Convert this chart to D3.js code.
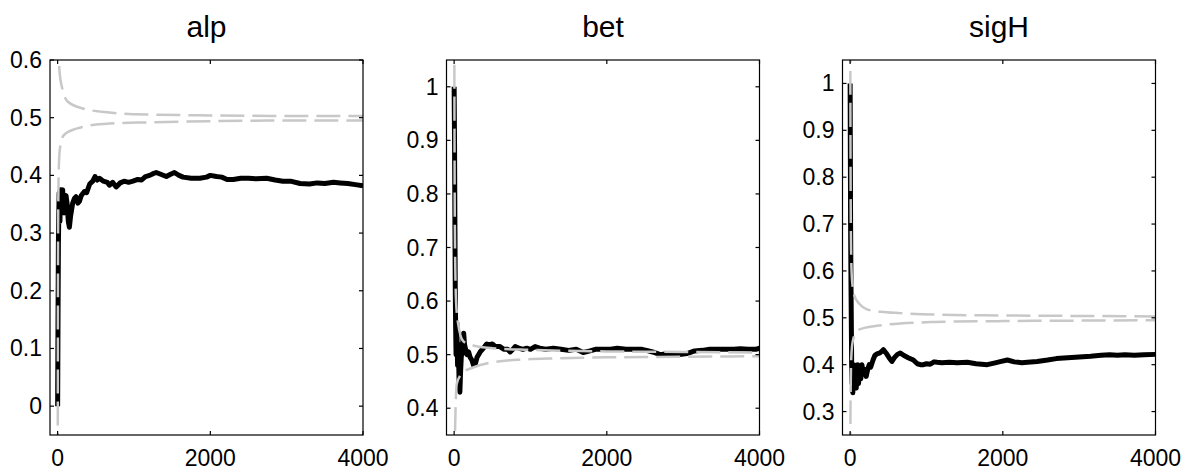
<!DOCTYPE html>
<html>
<head>
<meta charset="utf-8">
<script src="https://cdn.jsdelivr.net/npm/d3@7"></script>
<style>
  body { margin: 0; background: #fff; }
  text { font-family: "Liberation Sans", Arial, Helvetica, sans-serif; fill: #000; }
</style>
</head>
<body>
<div class="chart"></div>
<script>
// panel titles and tick labels
var titles = ["alp", "bet", "sigH"];
var xTicks = [0, 2000, 4000];
var alpTicks = [0, 0.1, 0.2, 0.3, 0.4, 0.5, 0.6];
var betTicks = [0.4, 0.5, 0.6, 0.7, 0.8, 0.9, 1];
var sigTicks = [0.3, 0.4, 0.5, 0.6, 0.7, 0.8, 0.9, 1];

// alp: running estimate (black) and the two grey bounds
var alpIter = [0, 5, 10, 15, 20, 30, 40, 55, 66, 80, 88, 100, 110, 125, 140, 154, 170, 197, 220, 241, 265, 285, 310, 351, 380, 420, 460, 490, 520, 548, 600, 650, 679, 720, 767, 820, 870, 930, 986, 1050, 1100, 1150, 1205, 1250, 1292, 1350, 1424, 1480, 1530, 1590, 1643, 1750, 1862, 1950, 2000, 2081, 2150, 2220, 2300, 2400, 2500, 2600, 2738, 2850, 2950, 3050, 3176, 3300, 3400, 3500, 3614, 3700, 3800, 3900, 4000];
var alpValue = [0, 0.15, 0.28, 0.33, 0.37, 0.32, 0.375, 0.37, 0.375, 0.34, 0.335, 0.36, 0.365, 0.35, 0.32, 0.31, 0.33, 0.352, 0.36, 0.363, 0.352, 0.355, 0.365, 0.372, 0.37, 0.385, 0.39, 0.398, 0.392, 0.395, 0.39, 0.388, 0.383, 0.388, 0.38, 0.387, 0.39, 0.388, 0.39, 0.393, 0.392, 0.398, 0.4, 0.403, 0.405, 0.402, 0.398, 0.402, 0.405, 0.4, 0.397, 0.395, 0.395, 0.397, 0.4, 0.398, 0.397, 0.393, 0.393, 0.395, 0.395, 0.394, 0.395, 0.392, 0.39, 0.39, 0.386, 0.385, 0.387, 0.386, 0.388, 0.387, 0.386, 0.384, 0.382];
var alpUpIter = [1, 3, 6, 12, 25, 66, 131, 329, 680, 986, 2000, 3000, 4000];
var alpUp = [1.2, 0.9, 0.7, 0.62, 0.58, 0.548, 0.528, 0.516, 0.509, 0.506, 0.504, 0.503, 0.503];
var alpLoIter = [1, 3, 6, 12, 25, 60, 110, 330, 680, 1200, 2000, 3000, 4000];
var alpLo = [-0.2, 0.1, 0.3, 0.39, 0.44, 0.465, 0.473, 0.484, 0.49, 0.492, 0.494, 0.495, 0.495];

// bet
var betIter = [0, 5, 10, 15, 20, 25, 35, 45, 55, 65, 75, 85, 95, 105, 115, 125, 135, 150, 170, 190, 210, 232, 255, 276, 300, 320, 341, 370, 400, 428, 460, 500, 540, 600, 650, 700, 734, 770, 800, 850, 900, 950, 1000, 1060, 1120, 1200, 1300, 1400, 1500, 1600, 1690, 1780, 1850, 1950, 2050, 2138, 2250, 2350, 2450, 2520, 2600, 2700, 2800, 2930, 3050, 3150, 3250, 3350, 3450, 3550, 3663, 3750, 3850, 3950, 4000];
var betValue = [1.0, 0.9, 0.75, 0.62, 0.55, 0.5, 0.56, 0.48, 0.52, 0.45, 0.43, 0.47, 0.5, 0.5, 0.53, 0.54, 0.52, 0.51, 0.5, 0.505, 0.495, 0.49, 0.48, 0.482, 0.495, 0.5, 0.505, 0.51, 0.515, 0.52, 0.518, 0.52, 0.515, 0.515, 0.51, 0.51, 0.505, 0.51, 0.515, 0.512, 0.51, 0.512, 0.51, 0.515, 0.512, 0.51, 0.512, 0.51, 0.508, 0.51, 0.504, 0.507, 0.51, 0.51, 0.51, 0.512, 0.51, 0.51, 0.51, 0.508, 0.505, 0.5, 0.502, 0.5, 0.502, 0.507, 0.508, 0.51, 0.51, 0.51, 0.51, 0.511, 0.51, 0.51, 0.512];
var betUpIter = [1, 3, 6, 12, 25, 50, 120, 250, 500, 1000, 2000, 3000, 4000];
var betUp = [1.4, 1.05, 0.85, 0.7, 0.6, 0.56, 0.525, 0.517, 0.512, 0.509, 0.506, 0.505, 0.504];
var betLoIter = [1, 3, 6, 13, 35, 118, 249, 472, 905, 1350, 2000, 3000, 4000];
var betLo = [-0.3, 0.2, 0.3, 0.365, 0.446, 0.467, 0.476, 0.485, 0.491, 0.493, 0.495, 0.496, 0.497];

// sigH
var sigIter = [0, 3, 6, 10, 15, 20, 25, 30, 35, 40, 50, 60, 70, 80, 90, 100, 110, 125, 140, 155, 170, 190, 210, 230, 250, 270, 300, 325, 352, 390, 435, 470, 510, 548, 580, 620, 657, 700, 760, 828, 880, 920, 960, 1000, 1050, 1100, 1140, 1200, 1300, 1400, 1534, 1650, 1796, 1900, 1980, 2060, 2150, 2250, 2323, 2450, 2586, 2700, 2848, 2950, 3050, 3150, 3286, 3400, 3500, 3600, 3723, 3850, 4000];
var sigValue = [1.0, 0.85, 0.7, 0.6, 0.5, 0.4, 0.36, 0.38, 0.34, 0.37, 0.4, 0.36, 0.39, 0.35, 0.38, 0.4, 0.36, 0.39, 0.37, 0.4, 0.38, 0.39, 0.375, 0.39, 0.4, 0.395, 0.41, 0.42, 0.423, 0.425, 0.432, 0.425, 0.415, 0.407, 0.415, 0.422, 0.425, 0.42, 0.415, 0.41, 0.402, 0.4, 0.4, 0.402, 0.401, 0.406, 0.405, 0.404, 0.405, 0.404, 0.405, 0.402, 0.4, 0.404, 0.407, 0.41, 0.406, 0.404, 0.405, 0.407, 0.41, 0.413, 0.415, 0.416, 0.417, 0.418, 0.42, 0.421, 0.42, 0.421, 0.42, 0.421, 0.422];
var sigUpIter = [1, 3, 6, 12, 25, 60, 120, 220, 400, 657, 1095, 2000, 3000, 4000];
var sigUp = [1.3, 1.0, 0.8, 0.65, 0.58, 0.545, 0.53, 0.518, 0.513, 0.51, 0.507, 0.505, 0.504, 0.503];
var sigLoIter = [1, 3, 6, 12, 25, 50, 88, 200, 350, 657, 1100, 2000, 3000, 4000];
var sigLo = [0.0, 0.25, 0.33, 0.4, 0.44, 0.46, 0.472, 0.479, 0.483, 0.488, 0.491, 0.493, 0.494, 0.495];

function zip(xs, ys) {
  return xs.map(function(x, i) { return [x, ys[i]]; });
}

var panels = [
  {title: titles[0], left: 50, yDomain: [-0.05, 0.6], yTicks: alpTicks,
   est: zip(alpIter, alpValue), up: zip(alpUpIter, alpUp), lo: zip(alpLoIter, alpLo)},
  {title: titles[1], left: 446.5, yDomain: [0.35, 1.05], yTicks: betTicks,
   est: zip(betIter, betValue), up: zip(betUpIter, betUp), lo: zip(betLoIter, betLo)},
  {title: titles[2], left: 842.5, yDomain: [0.25, 1.05], yTicks: sigTicks,
   est: zip(sigIter, sigValue), up: zip(sigUpIter, sigUp), lo: zip(sigLoIter, sigLo)}
];

var plotW = 313, plotTop = 60, plotH = 375, tickLen = 4;

var svg = d3.select(".chart").append("svg")
  .attr("width", 1200)
  .attr("height", 475);

panels.forEach(function(p, k) {
  var x = d3.scaleLinear().domain([-100, 4000]).range([0, plotW]);
  var y = d3.scaleLinear().domain(p.yDomain).range([plotH, 0]);

  var g = svg.append("g")
    .attr("transform", "translate(" + p.left + "," + plotTop + ")");

  g.append("clipPath").attr("id", "clip" + k)
    .append("rect").attr("width", plotW).attr("height", plotH);

  var line = d3.line()
    .x(function(d) { return x(d[0]); })
    .y(function(d) { return y(d[1]); });

  var plot = g.append("g").attr("clip-path", "url(#clip" + k + ")");

  plot.append("path")
    .datum(p.est)
    .attr("fill", "none")
    .attr("stroke", "#000")
    .attr("stroke-width", 5)
    .attr("stroke-linejoin", "round")
    .attr("d", line);

  var curve = d3.line()
    .curve(d3.curveMonotoneX)
    .x(function(d) { return x(d[0]); })
    .y(function(d) { return y(d[1]); });

  [p.up, p.lo].forEach(function(b) {
    plot.append("path")
      .datum(b)
      .attr("fill", "none")
      .attr("stroke", "#c8c8c8")
      .attr("stroke-width", 2.5)
      .attr("stroke-dasharray", "24,8")
      .attr("d", curve);
  });

  // box with inward ticks on all four sides
  g.append("rect")
    .attr("width", plotW)
    .attr("height", plotH)
    .attr("fill", "none")
    .attr("stroke", "#000")
    .attr("stroke-width", 1.2);

  var ticks = g.append("g").attr("stroke", "#000").attr("stroke-width", 1.2);
  xTicks.forEach(function(t) {
    ticks.append("line").attr("x1", x(t)).attr("x2", x(t)).attr("y1", plotH).attr("y2", plotH - tickLen);
    ticks.append("line").attr("x1", x(t)).attr("x2", x(t)).attr("y1", 0).attr("y2", tickLen);
    g.append("text")
      .attr("x", x(t))
      .attr("y", plotH + 31)
      .attr("text-anchor", "middle")
      .style("font-size", "23px")
      .text(t);
  });
  p.yTicks.forEach(function(t) {
    ticks.append("line").attr("x1", 0).attr("x2", tickLen).attr("y1", y(t)).attr("y2", y(t));
    ticks.append("line").attr("x1", plotW).attr("x2", plotW - tickLen).attr("y1", y(t)).attr("y2", y(t));
    g.append("text")
      .attr("x", -8)
      .attr("y", y(t) + 8)
      .attr("text-anchor", "end")
      .style("font-size", "23px")
      .text(t);
  });

  g.append("text")
    .attr("x", plotW / 2)
    .attr("y", -23)
    .attr("text-anchor", "middle")
    .style("font-size", "30px")
    .text(p.title);
});
</script>
</body>
</html>
